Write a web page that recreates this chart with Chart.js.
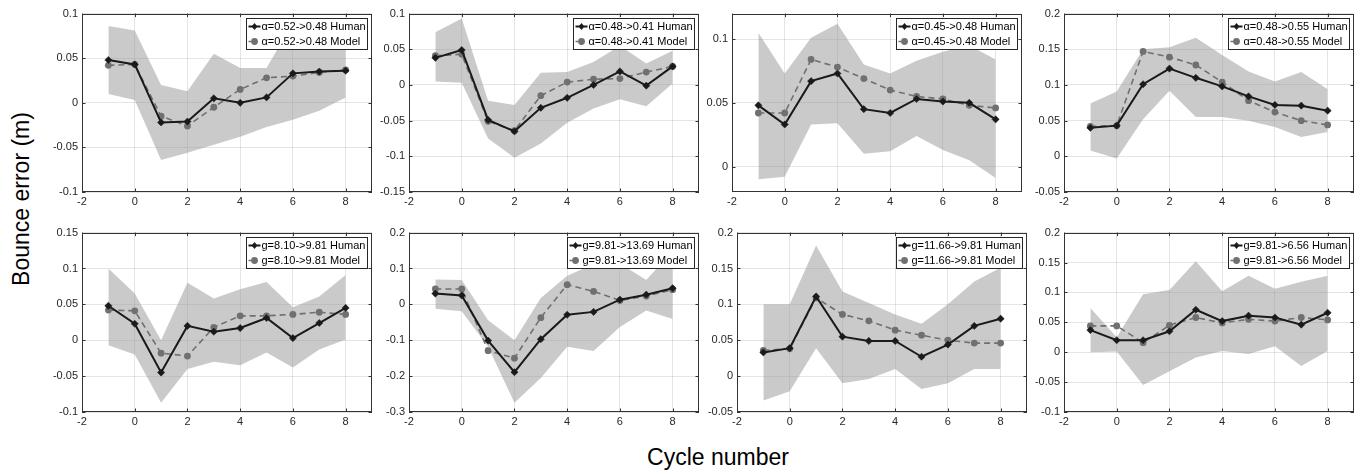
<!DOCTYPE html>
<html>
<head>
<meta charset="utf-8">
<script src="https://cdn.jsdelivr.net/npm/chart.js@4.4.1/dist/chart.umd.min.js"></script>
<style>
  html, body { margin: 0; padding: 0; background: #fff; }
  body { width: 1369px; height: 476px; position: relative; overflow: hidden; font-family: "Liberation Sans", Arial, sans-serif; }
  canvas { position: absolute; }
  .ylab { position: absolute; left: 21px; top: 199px; transform: translate(-50%, -50%) rotate(-90deg); font-size: 23px; color: #000; white-space: nowrap; }
  .xlab { position: absolute; left: 718px; top: 457px; transform: translate(-50%, -50%); font-size: 23px; color: #000; white-space: nowrap; }
</style>
</head>
<body>
<div class="ylab">Bounce error (m)</div>
<div class="xlab">Cycle number</div>
<script>
// ---------- data ----------
const cycles = [-1, 0, 1, 2, 3, 4, 5, 6, 7, 8];
const xTicks = [-2, 0, 2, 4, 6, 8];
const xRange = [-2, 9];

// Panel 1
const label1 = "α=0.52->0.48";
const human1 = [0.048, 0.043, -0.022, -0.021, 0.005, 0.000, 0.006, 0.033, 0.035, 0.036];
const model1 = [0.042, 0.043, -0.015, -0.026, -0.005, 0.015, 0.028, 0.030, 0.034, 0.037];
const upper1 = [0.086, 0.081, 0.020, 0.013, 0.055, 0.039, 0.039, 0.090, 0.085, 0.078];
const lower1 = [0.010, 0.003, -0.064, -0.056, -0.047, -0.038, -0.027, -0.019, -0.009, 0.006];
const yRange1 = [-0.1, 0.1];
const yTicks1 = [-0.1, -0.05, 0, 0.05, 0.1];

// Panel 2
const label2 = "α=0.48->0.41";
const human2 = [0.038, 0.049, -0.049, -0.065, -0.032, -0.018, 0.000, 0.019, -0.001, 0.026];
const model2 = [0.041, 0.043, -0.051, -0.064, -0.015, 0.004, 0.008, 0.009, 0.018, 0.026];
const upper2 = [0.074, 0.093, -0.022, -0.028, 0.017, 0.018, 0.032, 0.055, 0.030, 0.048];
const lower2 = [0.005, 0.003, -0.075, -0.102, -0.082, -0.053, -0.033, -0.020, -0.030, 0.002];
const yRange2 = [-0.15, 0.1];
const yTicks2 = [-0.15, -0.1, -0.05, 0, 0.05, 0.1];

// Panel 3
const label3 = "α=0.45->0.48";
const human3 = [0.048, 0.033, 0.067, 0.073, 0.045, 0.042, 0.053, 0.051, 0.050, 0.037];
const model3 = [0.042, 0.042, 0.084, 0.078, 0.069, 0.060, 0.055, 0.053, 0.048, 0.046];
const upper3 = [0.105, 0.073, 0.101, 0.112, 0.080, 0.073, 0.083, 0.090, 0.095, 0.084];
const lower3 = [-0.010, -0.008, 0.033, 0.034, 0.010, 0.012, 0.024, 0.013, 0.005, -0.009];
const yRange3 = [-0.02, 0.12];
const yTicks3 = [0, 0.05, 0.1];

// Panel 4
const label4 = "α=0.48->0.55";
const human4 = [0.040, 0.043, 0.101, 0.123, 0.110, 0.098, 0.084, 0.072, 0.071, 0.064];
const model4 = [0.042, 0.043, 0.147, 0.139, 0.128, 0.104, 0.078, 0.062, 0.050, 0.044];
const upper4 = [0.074, 0.091, 0.150, 0.153, 0.166, 0.142, 0.119, 0.105, 0.118, 0.094];
const lower4 = [0.008, -0.003, 0.052, 0.092, 0.055, 0.055, 0.050, 0.041, 0.027, 0.034];
const yRange4 = [-0.05, 0.2];
const yTicks4 = [-0.05, 0, 0.05, 0.1, 0.15, 0.2];

// Panel 5
const label5 = "g=8.10->9.81";
const human5 = [0.048, 0.023, -0.045, 0.020, 0.012, 0.017, 0.031, 0.003, 0.024, 0.045];
const model5 = [0.042, 0.041, -0.018, -0.022, 0.018, 0.034, 0.034, 0.036, 0.039, 0.036];
const upper5 = [0.100, 0.065, 0.000, 0.080, 0.058, 0.071, 0.081, 0.046, 0.061, 0.091];
const lower5 = [-0.007, -0.020, -0.087, -0.040, -0.030, -0.035, -0.017, -0.038, -0.013, 0.001];
const yRange5 = [-0.1, 0.15];
const yTicks5 = [-0.1, -0.05, 0, 0.05, 0.1, 0.15];

// Panel 6
const label6 = "g=9.81->13.69";
const human6 = [0.030, 0.025, -0.101, -0.189, -0.097, -0.029, -0.021, 0.013, 0.027, 0.045];
const model6 = [0.043, 0.043, -0.129, -0.150, -0.037, 0.055, 0.036, 0.011, 0.023, 0.041];
const upper6 = [0.069, 0.068, -0.044, -0.100, 0.018, 0.080, 0.112, 0.114, 0.068, 0.149];
const lower6 = [-0.012, -0.019, -0.118, -0.274, -0.205, -0.118, -0.130, -0.063, -0.017, -0.041];
const yRange6 = [-0.3, 0.2];
const yTicks6 = [-0.3, -0.2, -0.1, 0, 0.1, 0.2];

// Panel 7
const label7 = "g=11.66->9.81";
const human7 = [0.033, 0.039, 0.111, 0.055, 0.049, 0.049, 0.027, 0.044, 0.070, 0.080];
const model7 = [0.036, 0.038, 0.109, 0.086, 0.077, 0.064, 0.057, 0.050, 0.046, 0.046];
const upper7 = [0.100, 0.100, 0.182, 0.118, 0.102, 0.086, 0.073, 0.100, 0.132, 0.151];
const lower7 = [-0.034, -0.021, 0.039, -0.010, -0.004, 0.010, -0.018, -0.010, 0.010, 0.010];
const yRange7 = [-0.05, 0.2];
const yTicks7 = [-0.05, 0, 0.05, 0.1, 0.15, 0.2];

// Panel 8
const label8 = "g=9.81->6.56";
const human8 = [0.037, 0.020, 0.020, 0.035, 0.071, 0.052, 0.061, 0.058, 0.046, 0.066];
const model8 = [0.044, 0.044, 0.016, 0.045, 0.058, 0.049, 0.055, 0.052, 0.058, 0.054];
const upper8 = [0.074, 0.025, 0.097, 0.104, 0.152, 0.102, 0.128, 0.106, 0.118, 0.128];
const lower8 = [0.000, 0.001, -0.055, -0.032, -0.009, 0.002, -0.003, 0.010, -0.023, 0.002];
const yRange8 = [-0.1, 0.2];
const yTicks8 = [-0.1, -0.05, 0, 0.05, 0.1, 0.15, 0.2];

// ---------- layout ----------
const panels = [
  { left: 82,   top: 11,  h: 181, label: label1, human: human1, model: model1, upper: upper1, lower: lower1, yr: yRange1, yt: yTicks1 },
  { left: 409,  top: 11,  h: 181, label: label2, human: human2, model: model2, upper: upper2, lower: lower2, yr: yRange2, yt: yTicks2 },
  { left: 732,  top: 11,  h: 181, label: label3, human: human3, model: model3, upper: upper3, lower: lower3, yr: yRange3, yt: yTicks3 },
  { left: 1064, top: 11,  h: 181, label: label4, human: human4, model: model4, upper: upper4, lower: lower4, yr: yRange4, yt: yTicks4 },
  { left: 82,   top: 230, h: 182, label: label5, human: human5, model: model5, upper: upper5, lower: lower5, yr: yRange5, yt: yTicks5 },
  { left: 409,  top: 230, h: 182, label: label6, human: human6, model: model6, upper: upper6, lower: lower6, yr: yRange6, yt: yTicks6 },
  { left: 737,  top: 230, h: 182, label: label7, human: human7, model: model7, upper: upper7, lower: lower7, yr: yRange7, yt: yTicks7 },
  { left: 1064, top: 230, h: 182, label: label8, human: human8, model: model8, upper: upper8, lower: lower8, yr: yRange8, yt: yTicks8 }
];
const PLOT_W = 290, YAX_W = 48, XAX_H = 20, PAD_T = 8, PAD_R = 8;
const FONT = '"Liberation Sans", Arial, sans-serif';
const AXIS_COLOR = '#333333';
const HUMAN_COLOR = '#1a1a1a';
const MODEL_COLOR = '#707070';

const pts = (ys) => ys.map((y, i) => ({ x: cycles[i], y: y }));
const fmt = (v) => String(parseFloat(Number(v).toFixed(3)));

const boxPlugin = {
  id: 'boxPlugin',
  afterDatasetsDraw(chart) {
    const { ctx, chartArea: a, scales } = chart;
    ctx.save();
    ctx.strokeStyle = AXIS_COLOR;
    ctx.lineWidth = 1;
    ctx.beginPath();
    const tl = 3.5;
    scales.x.ticks.forEach(t => {
      const px = Math.round(scales.x.getPixelForValue(t.value)) + 0.5;
      ctx.moveTo(px, a.bottom); ctx.lineTo(px, a.bottom - tl);
      ctx.moveTo(px, a.top); ctx.lineTo(px, a.top + tl);
    });
    scales.y.ticks.forEach(t => {
      const py = Math.round(scales.y.getPixelForValue(t.value)) + 0.5;
      ctx.moveTo(a.left, py); ctx.lineTo(a.left + tl, py);
      ctx.moveTo(a.right, py); ctx.lineTo(a.right - tl, py);
    });
    ctx.stroke();
    ctx.strokeRect(Math.round(a.left) + 0.5, Math.round(a.top) + 0.5, Math.round(a.right - a.left) - 1, Math.round(a.bottom - a.top) - 1);
    ctx.restore();
  },
  afterDraw(chart) {
    const opts = chart.options.plugins.boxLegend;
    if (!opts) return;
    const { ctx, chartArea: a } = chart;
    const items = [
      { text: opts.label + ' Human', ds: chart.data.datasets[0] },
      { text: opts.label + ' Model', ds: chart.data.datasets[1] }
    ];
    ctx.save();
    ctx.font = '11px ' + FONT;
    const tw = Math.max(...items.map(it => ctx.measureText(it.text).width));
    const bw = Math.round(15 + tw + 2), bh = 31;
    const x0 = Math.round(a.right - 5 - bw) + 0.5, y0 = Math.round(a.top + 4) + 0.5;
    ctx.fillStyle = '#fff';
    ctx.fillRect(x0, y0, bw, bh);
    ctx.strokeStyle = '#262626';
    ctx.lineWidth = 1;
    ctx.strokeRect(x0, y0, bw, bh);
    items.forEach((it, i) => {
      const cy = y0 + 8 + i * 15;
      ctx.save();
      ctx.strokeStyle = it.ds.borderColor;
      ctx.lineWidth = it.ds.borderWidth;
      ctx.setLineDash(it.ds.borderDash ? [3, 3] : []);
      ctx.beginPath();
      ctx.moveTo(x0 + 2, cy); ctx.lineTo(x0 + 14, cy);
      ctx.stroke();
      ctx.setLineDash([]);
      ctx.fillStyle = it.ds.pointBackgroundColor;
      ctx.beginPath();
      const cx = x0 + 8, r = it.ds.pointRadius;
      if (it.ds.pointStyle === 'rectRot') {
        ctx.moveTo(cx, cy - r); ctx.lineTo(cx + r * 0.8, cy); ctx.lineTo(cx, cy + r); ctx.lineTo(cx - r * 0.8, cy); ctx.closePath();
      } else {
        ctx.arc(cx, cy, r, 0, Math.PI * 2);
      }
      ctx.fill();
      ctx.restore();
      ctx.fillStyle = '#000';
      ctx.textBaseline = 'middle';
      ctx.fillText(it.text, x0 + 15, cy + 0.5);
    });
    ctx.restore();
  }
};

panels.forEach((p, idx) => {
  const cv = document.createElement('canvas');
  const w = YAX_W + PLOT_W + PAD_R;
  const h = PAD_T + p.h + XAX_H;
  cv.width = w; cv.height = h;
  cv.style.left = (p.left - YAX_W) + 'px';
  cv.style.top = (p.top - PAD_T) + 'px';
  cv.style.width = w + 'px'; cv.style.height = h + 'px';
  document.body.appendChild(cv);

  new Chart(cv, {
    type: 'line',
    data: {
      datasets: [
        { label: p.label + ' Human', data: pts(p.human), borderColor: HUMAN_COLOR, borderWidth: 2,
          pointStyle: 'rectRot', pointRadius: 3.6, pointBackgroundColor: HUMAN_COLOR, pointBorderColor: HUMAN_COLOR, pointBorderWidth: 0.5,
          fill: false, tension: 0 },
        { label: p.label + ' Model', data: pts(p.model), borderColor: MODEL_COLOR, borderWidth: 1.6, borderDash: [6, 4],
          pointStyle: 'circle', pointRadius: 3.4, pointBackgroundColor: MODEL_COLOR, pointBorderColor: MODEL_COLOR, pointBorderWidth: 0,
          fill: false, tension: 0 },
        { label: 'upper', data: pts(p.upper), borderWidth: 0, borderColor: 'rgba(0,0,0,0)', pointRadius: 0,
          backgroundColor: 'rgba(150,150,150,0.5)', fill: '+1', tension: 0 },
        { label: 'lower', data: pts(p.lower), borderWidth: 0, borderColor: 'rgba(0,0,0,0)', pointRadius: 0,
          fill: false, tension: 0 }
      ]
    },
    options: {
      responsive: false,
      animation: false,
      events: [],
      layout: { padding: { top: PAD_T, right: PAD_R, left: 0, bottom: 0 } },
      plugins: {
        legend: { display: false },
        tooltip: { enabled: false },
        boxLegend: { label: p.label }
      },
      scales: {
        x: {
          type: 'linear', min: xRange[0], max: xRange[1],
          afterBuildTicks: (s) => { s.ticks = xTicks.map(v => ({ value: v })); },
          afterFit: (s) => { s.height = XAX_H; },
          grid: { color: 'rgba(38,38,38,0.12)', drawTicks: false, tickLength: 0 },
          border: { display: false },
          ticks: { padding: 3, color: '#262626', font: { family: FONT, size: 11 }, maxRotation: 0, callback: (v) => fmt(v) }
        },
        y: {
          type: 'linear', min: p.yr[0], max: p.yr[1],
          afterBuildTicks: (s) => { s.ticks = p.yt.map(v => ({ value: v })); },
          afterFit: (s) => { s.width = YAX_W; },
          grid: { color: 'rgba(38,38,38,0.12)', drawTicks: false, tickLength: 0 },
          border: { display: false },
          ticks: { padding: 4, color: '#262626', font: { family: FONT, size: 11 }, callback: (v) => fmt(v) }
        }
      }
    },
    plugins: [boxPlugin]
  });
});
</script>
</body>
</html>
